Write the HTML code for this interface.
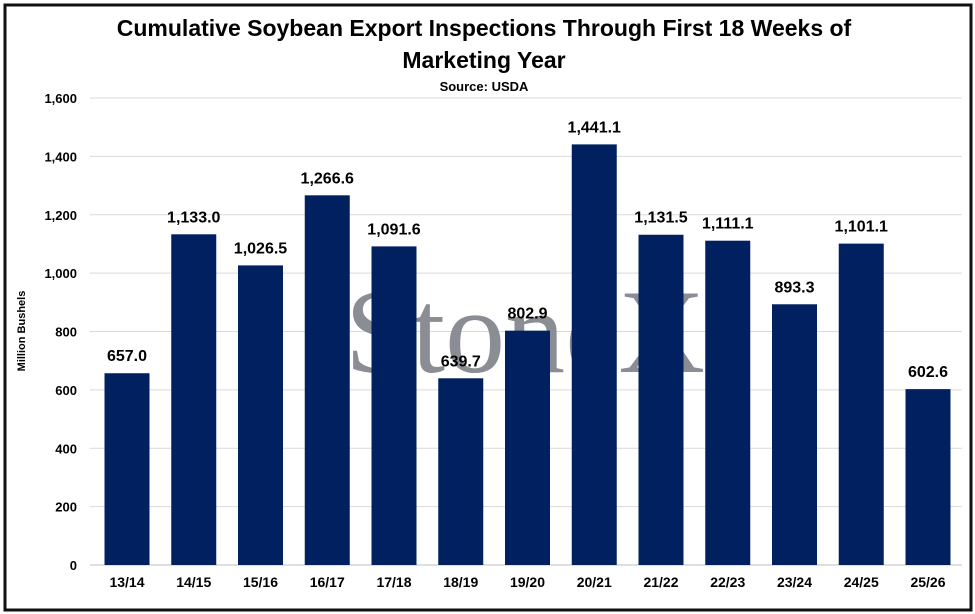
<!DOCTYPE html>
<html><head><meta charset="utf-8"><style>
body{margin:0;background:#fff;}
svg{display:block;font-family:"Liberation Sans",sans-serif;}
</style></head><body>
<svg id="chart" width="975" height="614">
<rect x="5" y="5" width="966" height="605" fill="#fff" stroke="#111" stroke-width="3"/>
<text x="484" y="36" text-anchor="middle" font-size="23" font-weight="bold" fill="#000">Cumulative Soybean Export Inspections Through First 18 Weeks of</text>
<text x="484" y="68" text-anchor="middle" font-size="23" font-weight="bold" fill="#000">Marketing Year</text>
<text x="484" y="91" text-anchor="middle" font-size="13" font-weight="bold" fill="#000">Source: USDA</text>
<text transform="translate(25,331) rotate(-90)" text-anchor="middle" font-size="11" font-weight="bold" fill="#000">Million Bushels</text>
<g id="grid"></g>
<text x="525" y="372" text-anchor="middle" font-family="Liberation Serif,serif" font-size="120" fill="#8a8d93">StoneX</text>
<g id="bars"></g>
</svg>
<script>
const categories=["13/14","14/15","15/16","16/17","17/18","18/19","19/20","20/21","21/22","22/23","23/24","24/25","25/26"];
const values=[657.0,1133.0,1026.5,1266.6,1091.6,639.7,802.9,1441.1,1131.5,1111.1,893.3,1101.1,602.6];
const yTicks=[0,200,400,600,800,1000,1200,1400,1600];
const NS="http://www.w3.org/2000/svg";
const y0=565,y1=98,xL=90,xR=962;
const y=v=>y0-(v/1600)*(y0-y1);
const xc=i=>127+i*66.75;
const fmt=v=>v.toLocaleString("en-US",{minimumFractionDigits:1,maximumFractionDigits:1});
const grid=document.getElementById("grid"),bars=document.getElementById("bars");
function mk(tag,attrs,parent,txt){const e=document.createElementNS(NS,tag);for(const k in attrs)e.setAttribute(k,attrs[k]);if(txt!==undefined)e.textContent=txt;parent.appendChild(e);return e;}
yTicks.forEach(t=>{
 const l=mk("line",{x1:xL,x2:xR,y1:y(t),y2:y(t),stroke:t===0?"#bfbfbf":"#d9d9d9","stroke-width":1},grid);
 
 
 const tx=mk("text",{x:77,y:y(t)+5,"text-anchor":"end","font-size":13,"font-weight":"bold",fill:"#000"},grid,t.toLocaleString("en-US"));
 
 
});
categories.forEach((c,i)=>{
 const v=values[i],cx=xc(i);
 const r=mk("rect",{x:cx-22.5,y:y(v),width:45,height:y0-y(v),fill:"#002060"},bars);
 
 
 const lb=mk("text",{x:cx,y:y(v)-12,"text-anchor":"middle","font-size":16,"font-weight":"bold",fill:"#000"},bars,fmt(v));
 
 
 const xl=mk("text",{x:cx,y:587,"text-anchor":"middle","font-size":14,"font-weight":"bold",fill:"#000"},bars,c);
 
 
});
</script>
</body></html>
